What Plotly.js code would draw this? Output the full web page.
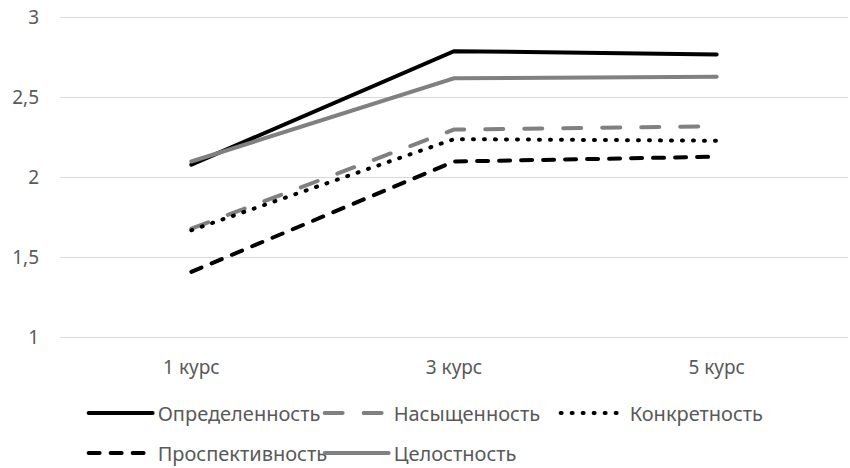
<!DOCTYPE html>
<html>
<head>
<meta charset="utf-8">
<script src="https://cdn.plot.ly/plotly-3.0.1.min.js"></script>
<style>
  html, body { margin: 0; padding: 0; background: #fff; }
  #chart { width: 850px; height: 468px; }
  path.js-line { stroke-linecap: round; }
</style>
</head>
<body>
<div id="chart"></div>
<script>
const categories = ['1 курс', '3 курс', '5 курс'];
const seriesNames = ['Определенность', 'Насыщенность', 'Конкретность', 'Проспективность', 'Целостность'];
const opredelennost = [2.08, 2.79, 2.77];
const nasyshchennost = [1.68, 2.30, 2.32];
const konkretnost = [1.67, 2.24, 2.23];
const prospektivnost = [1.41, 2.10, 2.13];
const tselostnost = [2.10, 2.62, 2.63];
const yTickVals = [1, 1.5, 2, 2.5, 3];

const values = [opredelennost, nasyshchennost, konkretnost, prospektivnost, tselostnost];
const styles = [
  {color: '#000000', width: 4, dash: 'solid', legend: 'legend'},
  {color: '#808080', width: 4, dash: '18px,21px', legend: 'legend'},
  {color: '#000000', width: 4, dash: '1px,10px', legend: 'legend'},
  {color: '#000000', width: 4, dash: '11px,11px', legend: 'legend2'},
  {color: '#808080', width: 4, dash: 'solid', legend: 'legend2'}
];

const traces = seriesNames.map((name, i) => ({
  x: categories,
  y: values[i],
  name: name,
  type: 'scatter',
  mode: 'lines',
  line: {color: styles[i].color, width: styles[i].width, dash: styles[i].dash},
  legend: styles[i].legend,
  hoverinfo: 'skip'
}));

const font = {family: 'Noto Sans, Open Sans, sans-serif', size: 19, color: '#595959'};
const legendFont = {family: 'Noto Sans, Open Sans, sans-serif', size: 20, color: '#595959'};
const legendCommon = {
  orientation: 'h',
  xanchor: 'left',
  yanchor: 'middle',
  x: 0.03,
  font: legendFont,
  itemwidth: 64,
  entrywidth: 157,
  bgcolor: 'rgba(0,0,0,0)',
  traceorder: 'normal'
};

const layout = {
  width: 850,
  height: 468,
  margin: {l: 60, r: 2, t: 16.4, b: 128.9, autoexpand: false},
  paper_bgcolor: '#ffffff',
  plot_bgcolor: '#ffffff',
  separators: ', ',
  font: font,
  showlegend: true,
  xaxis: {
    type: 'category',
    range: [-0.5, 2.5],
    showgrid: false,
    zeroline: false,
    showline: false,
    ticks: '',
    tickfont: font,
    ticklabelstandoff: 15,
    automargin: false
  },
  yaxis: {
    range: [0.99, 3.01],
    tickvals: yTickVals,
    showgrid: true,
    gridcolor: '#d9d9d9',
    gridwidth: 1.3,
    zeroline: false,
    showline: false,
    ticks: '',
    tickfont: font,
    ticklabelstandoff: 20,
    automargin: false
  },
  legend: Object.assign({}, legendCommon, {y: -0.229}),
  legend2: Object.assign({}, legendCommon, {y: -0.353})
};

Plotly.newPlot('chart', traces, layout, {displayModeBar: false, staticPlot: true});
</script>
</body>
</html>
